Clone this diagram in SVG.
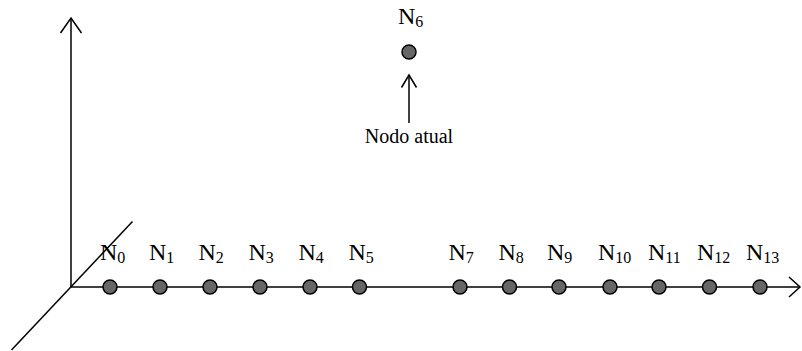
<svg xmlns="http://www.w3.org/2000/svg" width="802" height="351" viewBox="0 0 802 351">
<style>
.ax{stroke:#000;stroke-width:1.5;fill:none}
.nd{fill:#666;stroke:#000;stroke-width:1.5}
.lb{font-family:"Liberation Serif","Times New Roman",serif;font-size:24px;fill:#000}
.sb{font-size:16px}
.cap{font-family:"Liberation Serif","Times New Roman",serif;font-size:20px;fill:#000}
</style>
<g id="connectors">
<line class="ax" x1="71" y1="287" x2="71" y2="18"/>
<polyline class="ax" points="60.5,33 71,18 81.5,33"/>
<line class="ax" x1="11.5" y1="350" x2="132.5" y2="221.5"/>
<line class="ax" x1="71" y1="287" x2="800" y2="287"/>
<polyline class="ax" points="789,277 800,287 789,297"/>
<line class="ax" x1="409" y1="123" x2="409" y2="75"/>
<polyline class="ax" points="401.5,87.5 409,75 416.5,87.5"/>
</g>
<g id="N0"><circle class="nd" cx="110" cy="287" r="7"/><text class="lb" x="100" y="260">N<tspan class="sb" dy="3">0</tspan></text></g>
<g id="N1"><circle class="nd" cx="160" cy="287" r="7"/><text class="lb" x="149" y="260">N<tspan class="sb" dy="3">1</tspan></text></g>
<g id="N2"><circle class="nd" cx="210" cy="287" r="7"/><text class="lb" x="198.5" y="260">N<tspan class="sb" dy="3">2</tspan></text></g>
<g id="N3"><circle class="nd" cx="260" cy="287" r="7"/><text class="lb" x="248.5" y="260">N<tspan class="sb" dy="3">3</tspan></text></g>
<g id="N4"><circle class="nd" cx="310" cy="287" r="7"/><text class="lb" x="298.5" y="260">N<tspan class="sb" dy="3">4</tspan></text></g>
<g id="N5"><circle class="nd" cx="359.5" cy="287" r="7"/><text class="lb" x="348.5" y="260">N<tspan class="sb" dy="3">5</tspan></text></g>
<g id="N6"><circle class="nd" cx="409" cy="52" r="7"/><text class="lb" x="398" y="24">N<tspan class="sb" dy="3">6</tspan></text></g>
<g id="N7"><circle class="nd" cx="460" cy="287" r="7"/><text class="lb" x="448.5" y="260">N<tspan class="sb" dy="3">7</tspan></text></g>
<g id="N8"><circle class="nd" cx="509.5" cy="287" r="7"/><text class="lb" x="498.5" y="260">N<tspan class="sb" dy="3">8</tspan></text></g>
<g id="N9"><circle class="nd" cx="559" cy="287" r="7"/><text class="lb" x="547" y="260">N<tspan class="sb" dy="3">9</tspan></text></g>
<g id="N10"><circle class="nd" cx="610" cy="287" r="7"/><text class="lb" x="598" y="260">N<tspan class="sb" dy="3">10</tspan></text></g>
<g id="N11"><circle class="nd" cx="659" cy="287" r="7"/><text class="lb" x="648" y="260">N<tspan class="sb" dy="3">11</tspan></text></g>
<g id="N12"><circle class="nd" cx="709.5" cy="287" r="7"/><text class="lb" x="697" y="260">N<tspan class="sb" dy="3">12</tspan></text></g>
<g id="N13"><circle class="nd" cx="760" cy="287" r="7"/><text class="lb" x="746" y="260">N<tspan class="sb" dy="3">13</tspan></text></g>
<g id="caption"><text class="cap" x="409" y="143" text-anchor="middle">Nodo atual</text></g>
</svg>
